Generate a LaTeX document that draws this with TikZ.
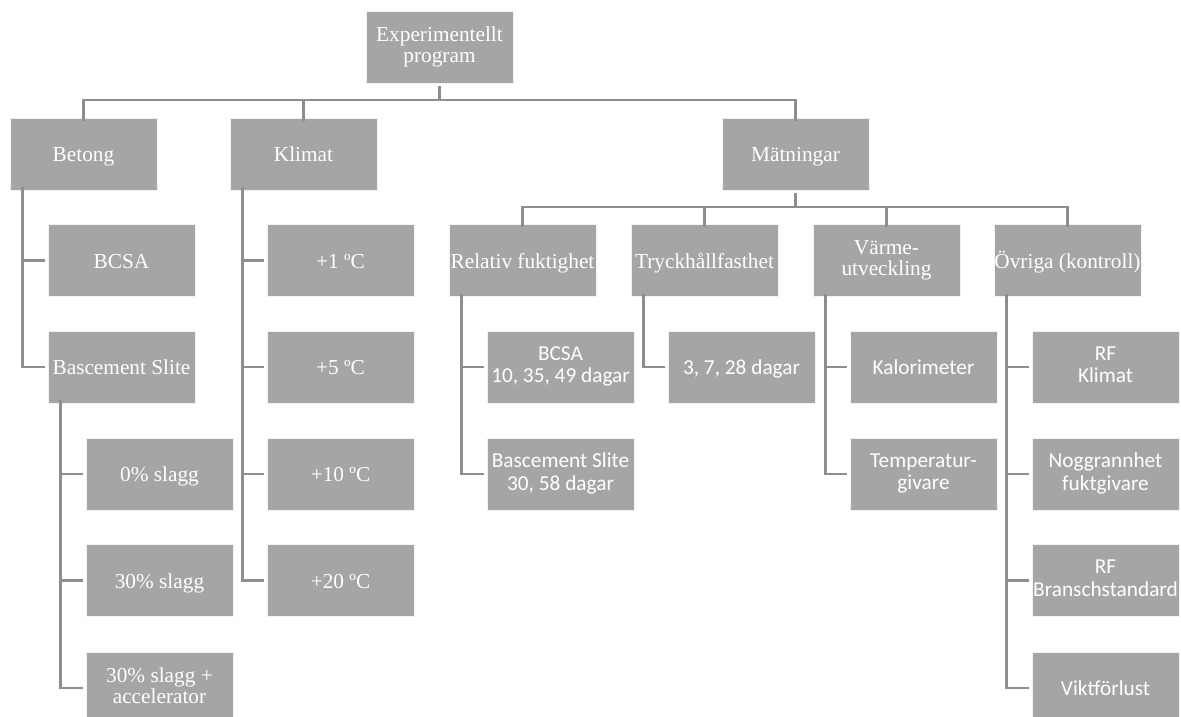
\documentclass[tikz,border=0pt]{standalone}
\usepackage{fontspec}
\setmainfont{Liberation Serif}
\newfontfamily\calfont{Carlito}
\definecolor{boxgray}{HTML}{A5A5A5}
\definecolor{linegray}{HTML}{8E8E8E}
\newcommand{\topstrut}{\rule{0pt}{20.5pt}}
\newcommand{\botstrut}{\rule[-5pt]{0pt}{5pt}}
\begin{document}
\begin{tikzpicture}[x=1pt,y=-1pt,
  box/.style={rectangle, fill=boxgray, draw=white!85!boxgray, line width=0.8pt,
    minimum width=147pt, minimum height=72pt, inner sep=0pt, align=center,
    text=white, font=\fontsize{21.3}{21.5}\selectfont,
    execute at begin node=\topstrut, execute at end node=\botstrut},
  cbox/.style={box, font=\fontsize{21.3}{22.5}\selectfont\calfont},
  conn/.style={draw=linegray, line width=2.6pt}]
\clip (0,0) rectangle (1181,717);
\fill[white] (0,0) rectangle (1181,717);
% root
\node[box] (root) at (439.5,47) {Experimentellt\\program};
% row 1
\node[box] (betong) at (83.5,154) {Betong};
\node[box] (klimat) at (303.5,154) {Klimat};
\node[box] (mat) at (795.5,154) {Mätningar};
% row 2
\node[box] (bcsa) at (121.5,260.5) {BCSA};
\node[box] (k1) at (340.5,260.5) {+1 ºC};
\node[box] (rf) at (522.5,260.5) {Relativ fuktighet};
\node[box] (tryck) at (704.5,260.5) {Tryckhållfasthet};
\node[box] (varme) at (886.5,260.5) {Värme-\\utveckling};
\node[box] (ovr) at (1067.5,260.5) {Övriga (kontroll)};
% row 3
\node[box] (bs) at (121.5,367) {Bascement Slite};
\node[box] (k5) at (340.5,367) {+5 ºC};
\node[cbox] (rfa) at (560.5,367) {BCSA\\10, 35, 49 dagar};
\node[cbox] (tra) at (741.5,367) {3, 7, 28 dagar};
\node[cbox] (kal) at (923.5,367) {Kalorimeter};
\node[cbox] (ova) at (1105.5,367) {RF\\Klimat};
% row 4
\node[box] (s0) at (159.5,474) {0\%  slagg};
\node[box] (k10) at (340.5,474) {+10 ºC};
\node[cbox] (rfb) at (560.5,474) {Bascement Slite\\30, 58 dagar};
\node[cbox] (temp) at (923.5,474) {Temperatur-\\givare};
\node[cbox] (ovb) at (1105.5,474) {Noggrannhet\\fuktgivare};
% row 5
\node[box] (s30) at (159.5,580.5) {30\% slagg};
\node[box] (k20) at (340.5,580.5) {+20 ºC};
\node[cbox] (ovc) at (1105.5,580.5) {RF\\Branschstandard};
% row 6
\node[box] (s30a) at (159.5,688) {30\% slagg +\\accelerator};
\node[cbox] (ovd) at (1105.5,688) {Viktförlust};
% connectors: top level
\foreach \c in {betong,klimat,mat}
  \draw[conn] ([yshift=-3pt]root.south) -- ++(0,13.5) -| ([yshift=-3pt]\c.north);
\foreach \c in {rf,tryck,varme,ovr}
  \draw[conn] ([yshift=-3pt]mat.south) -- ++(0,13.5) -| ([yshift=-3pt]\c.north);
% connectors: left-side trees
\foreach \p/\c in {betong/bcsa,betong/bs,klimat/k1,klimat/k5,klimat/k10,klimat/k20,
  bs/s0,bs/s30,bs/s30a,rf/rfa,rf/rfb,tryck/tra,varme/kal,varme/temp,
  ovr/ova,ovr/ovb,ovr/ovc,ovr/ovd}
  \draw[conn] ([xshift=13pt,yshift=3pt]\p.south west) |- ([xshift=-3pt]\c.west);
\end{tikzpicture}
\end{document}
